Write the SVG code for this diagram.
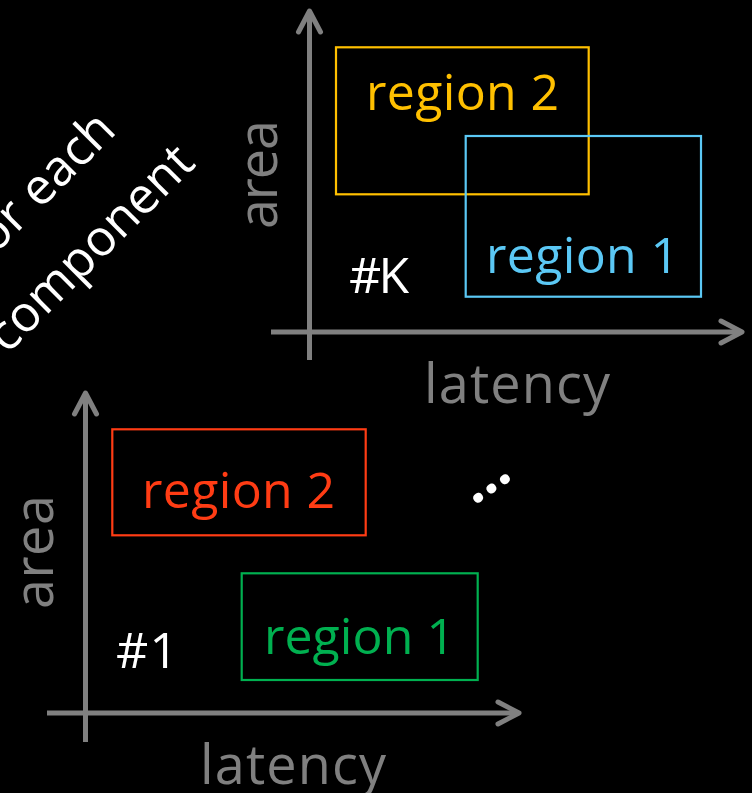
<svg xmlns="http://www.w3.org/2000/svg" width="752" height="793" viewBox="0 0 752 793">
  <style>
    .axis { fill: none; stroke: #808080; stroke-width: 5; }
    .axlabel { font-family: "Open Sans", "Noto Sans", sans-serif; font-size: 54px; fill: #808080; }
    .lbl { font-family: "Open Sans", "Noto Sans", sans-serif; font-size: 50px; }
    .white { fill: #FFFFFF; }
    .box { fill: none; stroke-width: 2.2; }
  </style>
  <defs>
    <marker id="arrow" viewBox="-26 -15 30 30" markerWidth="30" markerHeight="30" refX="0" refY="0" orient="auto" markerUnits="userSpaceOnUse">
      <path d="M-21,-11 L0,0 L-21,11" fill="none" stroke="#808080" stroke-width="5" stroke-linecap="round" stroke-linejoin="round"/>
    </marker>
  </defs>

  <rect width="752" height="793" fill="#000000"/>

  <!-- rotated caption, partly outside the canvas -->
  <g id="caption" class="lbl white">
    <text transform="translate(118,132) rotate(-45)" text-anchor="end">for each</text>
    <text transform="translate(197,165) rotate(-45)" text-anchor="end">component</text>
  </g>

  <!-- axes of both charts -->
  <g id="connectors">
    <path class="axis" d="M271,332 H742" marker-end="url(#arrow)"/>
    <path class="axis" d="M309.5,360 V11" marker-end="url(#arrow)"/>
    <path class="axis" d="M47,713 H519" marker-end="url(#arrow)"/>
    <path class="axis" d="M85.5,742 V393" marker-end="url(#arrow)"/>
  </g>

  <!-- chart #K -->
  <g id="chartK">
    <text class="axlabel" x="424" y="403" textLength="186">latency</text>
    <text class="axlabel" transform="translate(277,229) rotate(-90)" textLength="109">area</text>
    <text class="lbl white" x="349" y="293" textLength="60">#K</text>
    <g id="k-region2">
      <rect class="box" x="336" y="47.3" width="252.7" height="147" stroke="#FFC000"/>
      <text class="lbl" x="366" y="110" textLength="193" fill="#FFC000">region 2</text>
    </g>
    <g id="k-region1">
      <rect class="box" x="465.7" y="136" width="235.3" height="160.7" stroke="#5BC8F5"/>
      <text class="lbl" x="486" y="273" textLength="193" fill="#5BC8F5">region 1</text>
    </g>
  </g>

  <!-- chart #1 -->
  <g id="chart1">
    <text class="axlabel" x="200" y="784" textLength="186">latency</text>
    <text class="axlabel" transform="translate(53,609) rotate(-90)" textLength="114">area</text>
    <text class="lbl white" x="116" y="668" textLength="62">#1</text>
    <g id="r1-region2">
      <rect class="box" x="112.3" y="429.3" width="253.4" height="106" stroke="#FF3C14"/>
      <text class="lbl" x="142" y="508" textLength="193" fill="#FF3C14">region 2</text>
    </g>
    <g id="r1-region1">
      <rect class="box" x="241.7" y="573.3" width="236" height="106.7" stroke="#00B050"/>
      <text class="lbl" x="264" y="654" textLength="191" fill="#00B050">region 1</text>
    </g>
  </g>

  <!-- ellipsis between the charts -->
  <g id="ellipsis">
    <text transform="translate(473.7,505.8) rotate(-34.7)" font-family="Open Sans, sans-serif" font-weight="bold" font-size="57" fill="#FFFFFF">...</text>
  </g>
</svg>
